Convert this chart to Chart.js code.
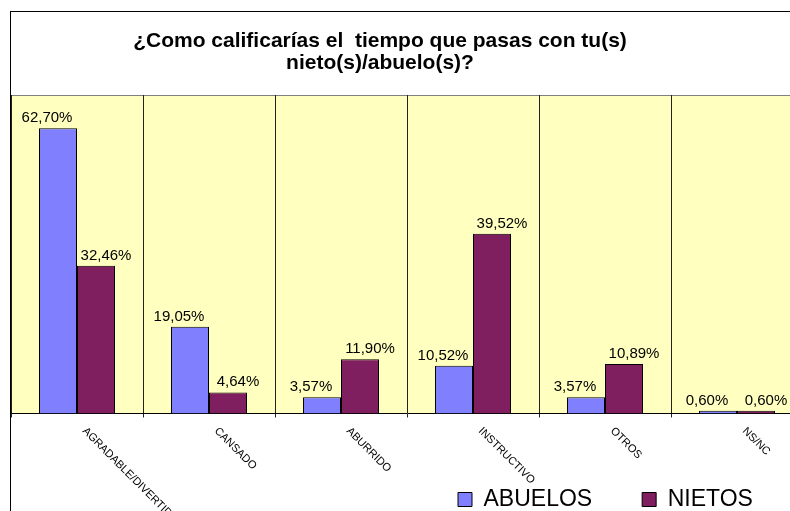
<!DOCTYPE html>
<html><head><meta charset="utf-8">
<script src="https://cdn.jsdelivr.net/npm/chart.js@4"></script>
<style>
html,body{margin:0;padding:0;overflow:hidden;background:#fff;width:790px;height:511px;}
#wrap{position:absolute;left:0;top:0;width:830px;height:521px;}
canvas{display:block;}
</style></head><body>
<div id="wrap"><canvas id="c" width="830" height="521" style="width:830px;height:521px"></canvas></div>
<script>
const categories = ['AGRADABLE/DIVERTIDO', 'CANSADO', 'ABURRIDO', 'INSTRUCTIVO', 'OTROS', 'NS/NC'];
const seriesNames = ['ABUELOS', 'NIETOS'];
const abuelos = [62.70, 19.05, 3.57, 10.52, 3.57, 0.60];
const nietos = [32.46, 4.64, 11.90, 39.52, 10.89, 0.60];
const titleLines = ['¿Como calificarías el  tiempo que pasas con tu(s)', 'nieto(s)/abuelo(s)?'];
const yMax = 70;

const FONT = 'Arial, "Liberation Sans", sans-serif';
Chart.defaults.font.family = FONT;
Chart.defaults.color = '#000';

const frame = {
  id: 'frame',
  beforeDraw(chart) {
    const {ctx, chartArea: a} = chart;
    ctx.save();
    ctx.fillStyle = '#fff';
    ctx.fillRect(0, 0, chart.width, chart.height);
    ctx.fillStyle = '#ffffc0';
    ctx.fillRect(a.left, a.top, a.right - a.left, a.bottom - a.top);
    ctx.strokeStyle = '#808080';
    ctx.lineWidth = 1;
    ctx.beginPath();
    ctx.moveTo(a.left, a.top + 0.5);
    ctx.lineTo(a.right, a.top + 0.5);
    ctx.stroke();
    ctx.strokeStyle = '#000';
    ctx.strokeRect(10.5, 11.5, chart.width, chart.height);
    ctx.restore();
  }
};

const valueLabels = {
  id: 'valueLabels',
  afterDatasetsDraw(chart) {
    const ctx = chart.ctx;
    ctx.save();
    ctx.font = '15px ' + FONT;
    ctx.fillStyle = '#000';
    ctx.textAlign = 'center';
    ctx.textBaseline = 'alphabetic';
    chart.data.datasets.forEach((ds, di) => {
      const meta = chart.getDatasetMeta(di);
      meta.data.forEach((bar, i) => {
        const txt = ds.data[i].toFixed(2).replace('.', ',') + '%';
        const dx = di === 0 ? -11 : 10;
        ctx.fillText(txt, bar.x + dx, bar.y - 6);
      });
    });
    ctx.restore();
  }
};

const catLabels = {
  id: 'catLabels',
  afterDraw(chart) {
    const ctx = chart.ctx, xs = chart.scales.x;
    ctx.save();
    ctx.font = '11px ' + FONT;
    ctx.fillStyle = '#000';
    ctx.textAlign = 'left';
    ctx.textBaseline = 'top';
    chart.data.labels.forEach((lab, i) => {
      const x = xs.getPixelForValue(i);
      ctx.save();
      ctx.translate(x + 11, xs.top + 12);
      ctx.rotate(Math.PI / 4);
      ctx.fillText(lab, 0, 0);
      ctx.restore();
    });
    ctx.restore();
  }
};

const placeBlocks = {
  id: 'placeBlocks',
  afterLayout(chart) {
    const t = chart.titleBlock;
    if (t) { t.left = 0; t.right = 760; }
    const l = chart.legend;
    if (l) { l.left = 408; l.right = chart.width + 200; }
  }
};

new Chart(document.getElementById('c'), {
  type: 'bar',
  data: {
    labels: categories,
    datasets: [
      {label: seriesNames[0], data: abuelos, backgroundColor: '#8080ff', borderColor: '#000', borderWidth: 1,
       categoryPercentage: 0.576, barPercentage: 1},
      {label: seriesNames[1], data: nietos, backgroundColor: '#7f1f5f', borderColor: '#000', borderWidth: 1,
       categoryPercentage: 0.576, barPercentage: 1}
    ]
  },
  options: {
    responsive: false,
    animation: false,
    devicePixelRatio: 1,
    layout: {padding: {left: 11, right: 27, top: 0, bottom: 0}},
    scales: {
      x: {
        grid: {color: '#222', lineWidth: 1, tickLength: 4, offset: true},
        border: {color: '#000', width: 1},
        ticks: {display: false},
        afterFit(s) { s.height = 24.5; }
      },
      y: {display: false, min: 0, max: yMax}
    },
    plugins: {
      title: {
        display: true, text: titleLines, color: '#000',
        font: {size: 21, weight: 'bold', lineHeight: 22 / 21},
        padding: {top: 30, bottom: 21}
      },
      legend: {
        position: 'bottom', align: 'start',
        labels: {color: '#000', font: {size: 23}, boxWidth: 14, boxHeight: 14, padding: 50}
      },
      tooltip: {enabled: false}
    }
  },
  plugins: [frame, valueLabels, catLabels, placeBlocks]
});
</script>
</body></html>
